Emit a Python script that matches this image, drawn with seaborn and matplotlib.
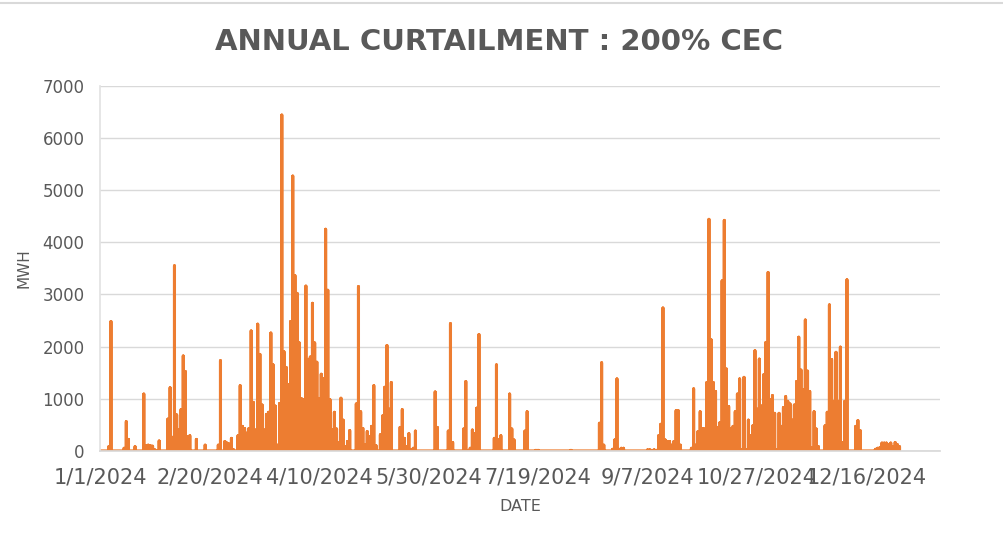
import pandas as pd
import matplotlib.pyplot as plt
from matplotlib.lines import Line2D
import seaborn as sns

# daily peak curtailment (MWH), one list per month of 2024
jan = [0, 0, 0, 0, 80, 2480, 0, 0, 0, 0, 0, 50, 560, 220, 0, 0, 80, 0, 0, 0,
       1090, 100, 110, 100, 90, 20, 0, 190, 0, 0, 0]
feb = [610, 1210, 260, 3550, 690, 400, 790, 1820, 1520, 270, 290, 0, 0, 220, 0,
       0, 0, 110, 0, 0, 0, 0, 0, 110, 1730, 0, 180, 150, 130]
mar = [240, 20, 0, 290, 1250, 470, 430, 340, 430, 2300, 930, 400, 2430, 1850,
       880, 400, 700, 740, 2260, 1650, 860, 110, 910, 6440, 1900, 1600, 1270,
       2480, 5270, 3360, 3020]
apr = [2070, 1000, 980, 3160, 1750, 1800, 2830, 2070, 1700, 1000, 1470, 1380,
       4250, 3080, 980, 400, 740, 420, 160, 1010, 590, 80, 180, 390, 0, 0, 900,
       3150, 750, 430]
may = [110, 370, 270, 470, 1250, 100, 0, 310, 670, 1220, 2020, 800, 1310, 0, 0,
       0, 450, 790, 240, 80, 330, 20, 50, 380, 0, 0, 0, 0, 0, 0, 0]
jun = [0, 1130, 450, 0, 0, 0, 0, 380, 2440, 160, 0, 0, 0, 0, 420, 1330, 0, 50,
       400, 330, 820, 2230, 0, 0, 0, 0, 0, 0, 240, 1650]
jul = [210, 290, 0, 0, 0, 1090, 420, 210, 0, 0, 0, 0, 380, 750, 0, 0, 0, 10, 10,
       0, 0, 0, 0, 0, 0, 0, 0, 0, 0, 0, 0]
aug = [0, 0, 10, 0, 0, 0, 0, 0, 0, 0, 0, 0, 0, 0, 0, 530, 1690, 110, 0, 0, 0, 30,
       210, 1380, 30, 50, 50, 0, 0, 0, 0]
sep = [0, 0, 0, 0, 0, 0, 20, 20, 10, 20, 10, 290, 510, 2740, 210, 180, 180, 110,
       180, 770, 770, 110, 0, 0, 0, 0, 50, 1190, 110, 370]
oct_ = [750, 430, 420, 1310, 4440, 2130, 1310, 1140, 450, 540, 3260, 4420, 1570,
        850, 430, 470, 750, 1090, 1380, 20, 1410, 20, 590, 290, 480, 1920, 800,
        1760, 860, 1460, 2080]
nov = [3420, 980, 1060, 720, 20, 720, 470, 830, 1040, 950, 900, 590, 880, 1330,
       2180, 1550, 1170, 2510, 1530, 1140, 60, 750, 420, 80, 0, 0, 480, 740,
       2800, 1750]
dec = [950, 1890, 950, 1990, 160, 950, 3280, 0, 0, 0, 470, 580, 390, 0, 0, 0, 0,
       0, 0, 30, 50, 60, 150, 150, 150, 120, 150, 80, 160, 120, 80]

tick_dates = ["2024-01-01", "2024-02-20", "2024-04-10", "2024-05-30",
              "2024-07-19", "2024-09-07", "2024-10-27", "2024-12-16"]
tick_labels = ["1/1/2024", "2/20/2024", "4/10/2024", "5/30/2024",
               "7/19/2024", "9/7/2024", "10/27/2024", "12/16/2024"]

peaks = jan + feb + mar + apr + may + jun + jul + aug + sep + oct_ + nov + dec
days = pd.date_range("2024-01-01", periods=len(peaks), freq="D")

# the hours of one day share the same date, so each day rises from the
# night-time zero to its peak and falls back at a single x position
rows = []
for d, p in zip(days, peaks):
    rows += [(d, 0), (d, p), (d, 0)]
df = pd.DataFrame(rows, columns=["date", "mwh"])

sns.set_theme(style="white")
plt.rcParams["font.family"] = ["DejaVu Sans"]
grey = "#595959"

fig = plt.figure(figsize=(10.04, 5.4), dpi=100)
ax = fig.add_axes([0.0996, 0.165, 0.8367, 0.676])

sns.lineplot(data=df, x="date", y="mwh", ax=ax, color="#ED7D31",
             linewidth=2.2, sort=False, estimator=None)

start = pd.Timestamp("2024-01-01")
ax.set_xlim(start, start + pd.Timedelta(days=383.5))
ax.set_ylim(0, 7000)
ax.set_yticks(range(0, 7001, 1000))
ax.set_xticks(pd.to_datetime(tick_dates))
ax.set_xticklabels(tick_labels)

ax.grid(axis="y", color="#D9D9D9", linewidth=1)
ax.set_axisbelow(True)
for side in ["top", "right"]:
    ax.spines[side].set_visible(False)
ax.spines["left"].set_color("#E3E3E3")
ax.spines["bottom"].set_color("#D9D9D9")

ax.tick_params(axis="x", length=0, pad=12, labelsize=15, labelcolor=grey)
ax.tick_params(axis="y", length=0, pad=11, labelsize=12, labelcolor=grey)

ax.set_xlabel("DATE", fontsize=11.5, color=grey, labelpad=8)
ax.set_ylabel("MWH", fontsize=11, color=grey, labelpad=8)

fig.text(0.497, 1 - 42 / 540, "ANNUAL CURTAILMENT : 200% CEC",
         ha="center", va="center", fontsize=21, fontweight="bold", color=grey)

# chart border line at the top of the image
fig.add_artist(Line2D([0, 1], [1 - 3 / 540, 1 - 3 / 540],
                      color="#D9D9D9", linewidth=1.5, transform=fig.transFigure))

fig.savefig("out.png", dpi=100)
